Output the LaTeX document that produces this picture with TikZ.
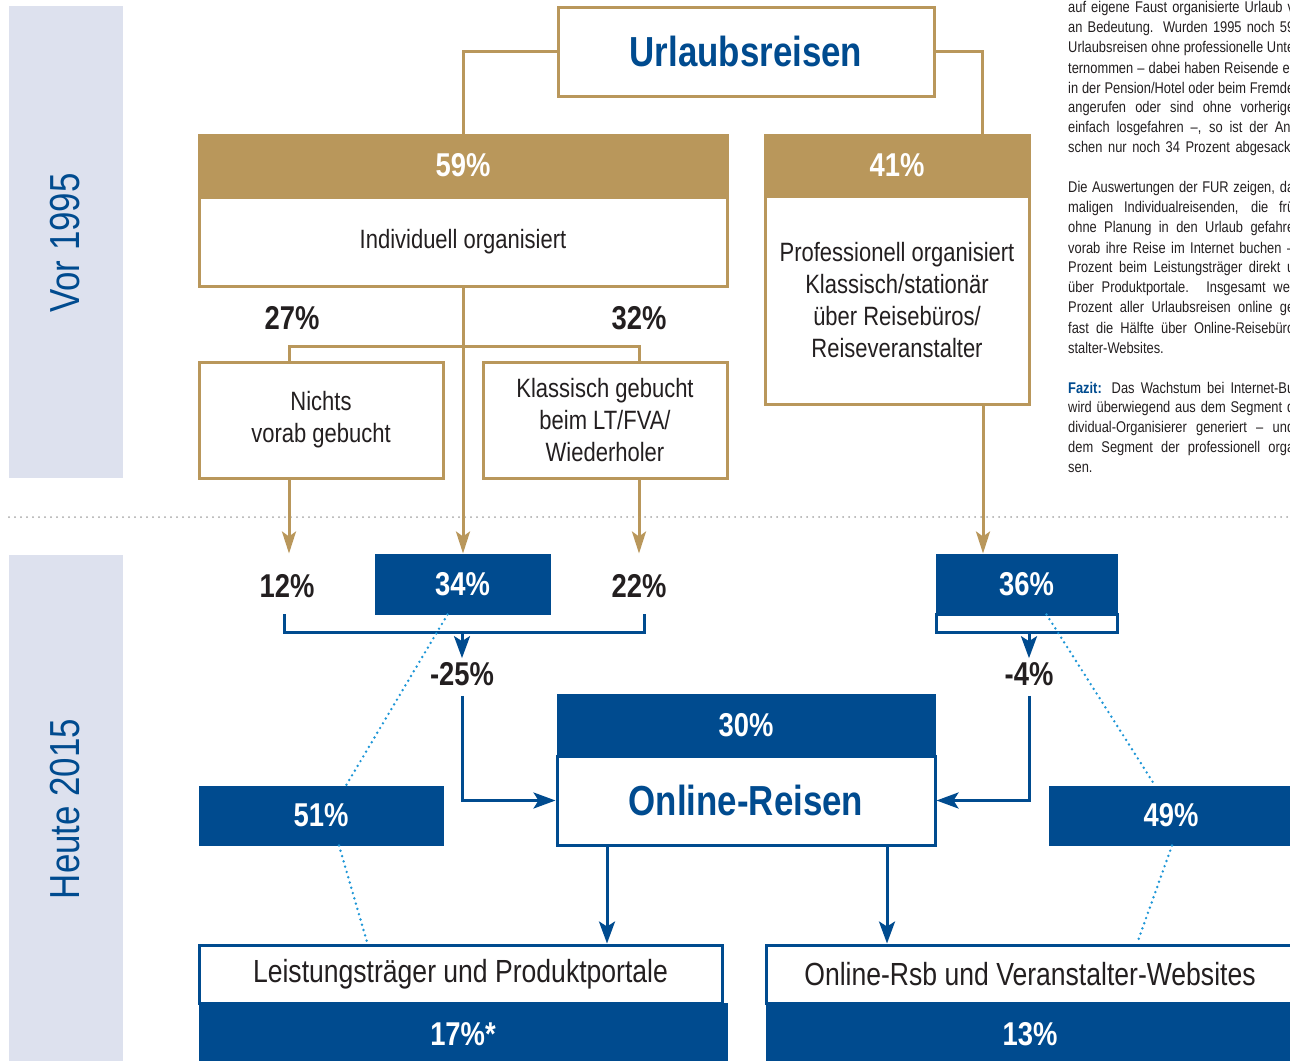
\documentclass[tikz,border=0pt]{standalone}
\usepackage{fontspec}
\setmainfont{Liberation Sans}[FakeStretch=0.83]
\usetikzlibrary{arrows.meta}

\definecolor{gold}{HTML}{B9975B}
\definecolor{navy}{HTML}{004B8F}
\definecolor{band}{HTML}{DDE1EE}
\definecolor{dotblue}{HTML}{1E96D6}
\definecolor{ink}{HTML}{231F20}

\tikzset{
  wh/.style 2 args={minimum width=#1pt, minimum height=#2pt},
  box/.style={rectangle, inner sep=0pt, align=center, text=ink, font=\fontsize{26.5}{32}\selectfont},
  goldbox/.style={box, draw=gold, line width=3pt, fill=white},
  goldhead/.style={box, draw=gold, line width=3pt, fill=gold, text=white, font=\fontsize{33}{33}\selectfont\bfseries},
  bluebox/.style={box, draw=navy, line width=3pt, fill=white},
  bluehead/.style={box, draw=navy, line width=1pt, fill=navy, text=white, font=\fontsize{33}{33}\selectfont\bfseries},
  titletext/.style={text=navy, font=\fontsize{42}{42}\selectfont\bfseries},
  bigtext/.style={font=\fontsize{32}{36}\selectfont},
  pct/.style={inner sep=4pt, text=ink, font=\fontsize{33}{33}\selectfont\bfseries},
  bandlabel/.style={rotate=90, text=navy, font=\fontsize{42}{42}\selectfont},
  coltext/.style={anchor=west, inner sep=0pt, text=ink, font=\fontsize{15.5}{20}\selectfont},
  goldline/.style={draw=gold, line width=3pt},
  goldarrow/.style={goldline, -{Stealth[length=22pt,width=14pt,inset=5pt]}},
  blueline/.style={draw=navy, line width=3pt},
  bluearrow/.style={blueline, -{Stealth[length=22pt,width=16pt,inset=5pt]}},
  dotline/.style={draw=dotblue, line width=2.7pt, dash pattern=on 0pt off 5.5pt, line cap=round},
  sepline/.style={draw=gray!70, line width=2pt, dash pattern=on 0pt off 6pt, line cap=round}
}

\begin{document}
\begin{tikzpicture}[x=1pt,y=-1pt]
        \useasboundingbox (0,0) rectangle (1290,1060);
        \clip (0,0) rectangle (1290,1060);
        \fill [band] (9,6) rectangle (123,478);
        \fill [band] (9,555) rectangle (123,1066);
        \node [bandlabel] (vor) at (65,243) {Vor 1995};
        \node [bandlabel] (heute) at (65,809) {Heute 2015};
        \draw [sepline] (9,517)--(1290,517);

        \node [goldbox,wh={376}{89},titletext] (urlaub) at (746,51.5) {Urlaubsreisen};
        \node [goldhead,wh={528}{61}] (head59) at (463,165.5) {59\%};
        \node [goldbox,wh={528}{89}] (indiv) at (463,242) {Individuell organisiert};
        \node [goldhead,wh={264}{61}] (head41) at (897,165.5) {41\%};
        \node [goldbox,wh={264}{208}] (prof) at (897,300) {Professionell organisiert\\Klassisch/stationär\\über Reisebüros/\\Reiseveranstalter};
        \node [goldbox,wh={244}{116}] (nichts) at (321,420) {Nichts\\vorab gebucht};
        \node [goldbox,wh={244}{116}] (klass) at (605,420) {Klassisch gebucht\\beim LT/FVA/\\Wiederholer};
        \node [pct] (l27) at (292,318) {27\%};
        \node [pct] (l32) at (639,318) {32\%};

        \coordinate (colA) at (289,0);
        \coordinate (colB) at (639,0);
        \coordinate (colC) at (983,0);
        \draw [goldline] (urlaub.west) -| (head59.north);
        \draw [goldline] (urlaub.east) -| ([xshift=85pt]head41.north);
        \draw [goldline] (nichts.north -| colA) -- ++(0,-14) -| (klass.north -| colB);

        \node [pct] (l12) at (287,586) {12\%};
        \node [bluehead,wh={175}{60}] (p34) at (462.5,584) {34\%};
        \node [pct] (l22) at (639,586) {22\%};
        \node [bluehead,wh={181}{60}] (p36) at (1026.5,584) {36\%};
        \node [bluebox,wh={181}{18}] (strip36) at (1026.5,623) {};
        \node [pct] (l25) at (462,674) {-25\%};
        \node [pct] (l4) at (1029,674) {-4\%};

        \draw [goldarrow] (indiv.south) -- (indiv.south |- p34.north);
        \draw [goldarrow] (nichts.south -| colA) -- (colA |- p34.north);
        \draw [goldarrow] (klass.south -| colB) -- (colB |- p34.north);
        \draw [goldarrow] (prof.south -| colC) -- (colC |- p36.north);

        \node [bluehead,wh={378}{62}] (head30) at (746,725) {30\%};
        \node [bluebox,wh={378}{89},titletext] (online) at (746,800.5) {Online-Reisen};
        \node [bluehead,wh={244}{59}] (p51) at (321,815.5) {51\%};
        \node [bluehead,wh={244}{59}] (p49) at (1171,815.5) {49\%};
        \node [bluebox,wh={523}{58},bigtext] (leist) at (460.5,974) {Leistungsträger und Produktportale};
        \node [bluehead,wh={528}{63}] (p17) at (463,1034.5) {17\%*};
        \node [bluebox,wh={528}{58},bigtext] (rsb) at (1030,974) {Online-Rsb und Veranstalter-Websites};
        \node [bluehead,wh={528}{63}] (p13) at (1030,1034.5) {13\%};

        \coordinate (brL) at (284,614);
        \coordinate (brR) at (644,614);
        \coordinate (brM) at (462,632);
        \coordinate (colD) at (607,0);
        \coordinate (colE) at (887,0);
        \draw [blueline] (brL) -- ++(0,18) -| (brR);
        \draw [bluearrow] (brM) -- (l25.north);
        \draw [bluearrow,shorten <=6pt] (l25.south) |- (online.west);
        \draw [bluearrow] (strip36.south -| l4) -- (l4.north);
        \draw [bluearrow,shorten <=6pt] (l4.south) |- (online.east);
        \draw [bluearrow] (online.south -| colD) -- (colD |- leist.north);
        \draw [bluearrow] (online.south -| colE) -- (colE |- rsb.north);

        \draw [dotline] ([xshift=-15pt]p34.south) -- ([xshift=25pt]p51.north);
        \draw [dotline] ([xshift=18pt]p51.south) -- ([xshift=-93pt]leist.north);
        \draw [dotline] ([xshift=20pt]p36.south) -- ([xshift=-16pt]p49.north);
        \draw [dotline] ([xshift=1pt]p49.south) -- ([xshift=107pt]rsb.north);

        \node [coltext] (t0) at (1068,8) {\hbox to 226pt{auf eigene Faust organisierte Urlaub v}};
        \node [coltext] (t1) at (1068,28) {\hbox to 226pt{an Bedeutung. Wurden 1995 noch 59}};
        \node [coltext] (t2) at (1068,48) {\hbox to 226pt{Urlaubsreisen ohne professionelle Unte}};
        \node [coltext] (t3) at (1068,68) {\hbox to 226pt{ternommen – dabei haben Reisende er}};
        \node [coltext] (t4) at (1068,88) {\hbox to 226pt{in der Pension/Hotel oder beim Fremde}};
        \node [coltext] (t5) at (1068,108) {\hbox to 226pt{angerufen oder sind ohne vorherige}};
        \node [coltext] (t6) at (1068,128) {\hbox to 226pt{einfach losgefahren –, so ist der Ant}};
        \node [coltext] (t7) at (1068,148) {\hbox to 226pt{schen nur noch 34 Prozent abgesackt}};
        \node [coltext] (t9) at (1068,188) {\hbox to 226pt{Die Auswertungen der FUR zeigen, da}};
        \node [coltext] (t10) at (1068,208) {\hbox to 226pt{maligen Individualreisenden, die frü}};
        \node [coltext] (t11) at (1068,228) {\hbox to 226pt{ohne Planung in den Urlaub gefahre}};
        \node [coltext] (t12) at (1068,248) {\hbox to 226pt{vorab ihre Reise im Internet buchen –}};
        \node [coltext] (t13) at (1068,268) {\hbox to 226pt{Prozent beim Leistungsträger direkt u}};
        \node [coltext] (t14) at (1068,288) {\hbox to 226pt{über Produktportale. Insgesamt wer}};
        \node [coltext] (t15) at (1068,308) {\hbox to 226pt{Prozent aller Urlaubsreisen online ge}};
        \node [coltext] (t16) at (1068,328) {\hbox to 226pt{fast die Hälfte über Online-Reisebüro}};
        \node [coltext] (t17) at (1068,348) {stalter-Websites.};
        \node [coltext] (t19) at (1068,388) {\hbox to 226pt{\textcolor{navy}{\bfseries Fazit:} Das Wachstum bei Internet-Bu}};
        \node [coltext] (t20) at (1068,408) {\hbox to 226pt{wird überwiegend aus dem Segment d}};
        \node [coltext] (t21) at (1068,428) {\hbox to 226pt{dividual-Organisierer generiert – und}};
        \node [coltext] (t22) at (1068,448) {\hbox to 226pt{dem Segment der professionell orga}};
        \node [coltext] (t23) at (1068,468) {sen.};
    \end{tikzpicture}
\end{document}
